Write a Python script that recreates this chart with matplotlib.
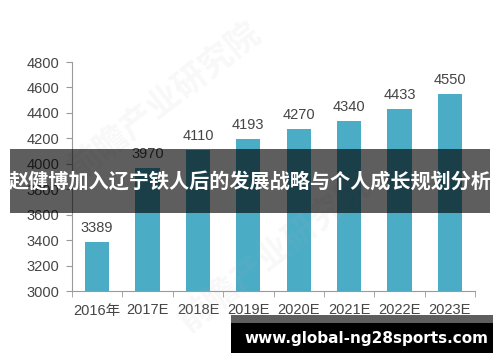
import matplotlib
matplotlib.use('Agg')
import matplotlib.pyplot as plt
from matplotlib.patches import Rectangle

# data
years = ['2016年', '2017E', '2018E', '2019E', '2020E', '2021E', '2022E', '2023E']
values = [3389, 3970, 4110, 4193, 4270, 4340, 4433, 4550]
y_ticks = [3000, 3200, 3400, 3600, 3800, 4000, 4200, 4400, 4600, 4800]

title = '赵健博加入辽宁铁人后的发展战略与个人成长规划分析'
site = 'www.global-ng28sports.com'
watermark = '前瞻产业研究院'

plt.rcParams['font.family'] = ['Liberation Sans', 'Noto Sans CJK SC', 'DejaVu Sans']

W, H = 500, 362
fig = plt.figure(figsize=(W / 100, H / 100), dpi=100)
ax = fig.add_axes([72 / W, 1 - 291 / H, (475 - 72) / W, (291 - 62) / H])

bar_color = '#4bacc6'
text_color = '#454545'
axis_color = '#9a9a9a'

x = list(range(len(years)))
bars = ax.bar(x, values, width=0.48, color=bar_color, zorder=2)
for xi, v in zip(x, values):
    ax.annotate(str(v), (xi, v), xytext=(0, 5), textcoords='offset points',
                ha='center', va='bottom', fontsize=10.5, color=text_color)

ax.set_xlim(-0.5, len(years) - 0.5)
ax.set_ylim(3000, 4800)
ax.set_yticks(y_ticks)
ax.set_yticklabels([str(t) for t in y_ticks])
ax.set_xticks(x)
ax.set_xticklabels(years)
ax.set_xticks([i + 0.5 for i in range(-1, len(years))], minor=True)

ax.tick_params(axis='x', which='major', length=0, pad=9, labelsize=10.5, colors=text_color)
ax.tick_params(axis='x', which='minor', length=4, color=axis_color)
ax.tick_params(axis='y', length=4, pad=5, labelsize=10.5, colors=text_color, color=axis_color)

for side in ['top', 'right']:
    ax.spines[side].set_visible(False)
for side in ['left', 'bottom']:
    ax.spines[side].set_color(axis_color)
    ax.spines[side].set_linewidth(0.8)

# faint watermark
for (wx, wy) in [(0.33, 0.72), (0.55, 0.30)]:
    fig.text(wx, wy, watermark, rotation=38, fontsize=24, color='#b0b0b0', alpha=0.09,
             ha='center', va='center', family=['Noto Sans CJK SC'], fontweight='bold', zorder=3)

# dark banner with title
fig.patches.append(Rectangle((10 / W, 1 - 213 / H), 480 / W, 64 / H, transform=fig.transFigure,
                             facecolor='#000000', alpha=0.63, edgecolor='none', zorder=5))
fig.text(250 / W, 1 - 182 / H, title, ha='center', va='center', color='white',
         fontsize=14.5, fontweight='bold', family=['Noto Sans CJK SC'], zorder=6)

# url box
fig.patches.append(Rectangle((231 / W, 1 - 353 / H), 262 / W, 38 / H, transform=fig.transFigure,
                             facecolor='black', edgecolor='none', zorder=5))
fig.patches.append(Rectangle((231 / W, 1 - 323 / H), 262 / W, 8 / H, transform=fig.transFigure,
                             facecolor='#5e5e5e', edgecolor='none', zorder=5))
fig.text(366 / W, 1 - 338 / H, site, ha='center', va='center', color='white',
         fontsize=11, fontweight='bold', family=['DejaVu Sans'], zorder=6)

fig.savefig('out.png', dpi=100)
